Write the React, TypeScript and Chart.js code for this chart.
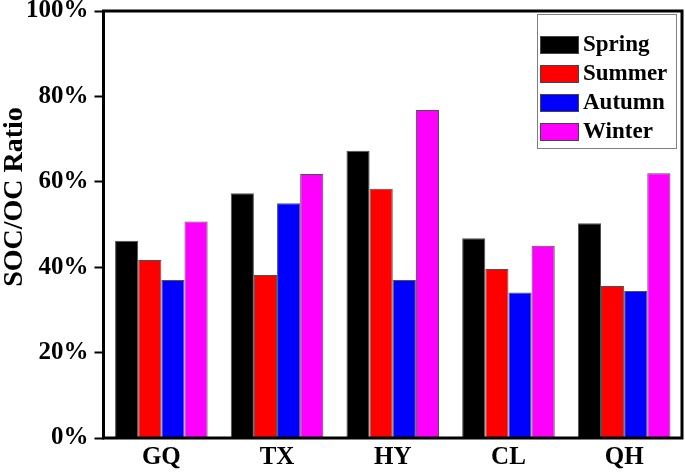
import React, { useEffect, useRef } from "react";
import { Chart, registerables } from "chart.js";

Chart.register(...registerables);

const categories = ["GQ", "TX", "HY", "CL", "QH"];
const seriesNames = ["Spring", "Summer", "Autumn", "Winter"];
const spring = [46.2, 57.3, 67.3, 46.8, 50.3];
const summer = [41.7, 38.2, 58.4, 39.6, 35.6];
const autumn = [37.0, 55.0, 37.0, 34.1, 34.4];
const winter = [50.7, 61.8, 76.8, 45.0, 62.0];
const seriesColors = ["#000000", "#ff0000", "#0000ff", "#ff00ff"];
const yTicks = [0, 20, 40, 60, 80, 100];
const yTitle = "SOC/OC Ratio";

const FONT = "'Liberation Serif', 'Times New Roman', serif";

const framePlugin = {
  id: "frame",
  afterDatasetsDraw(chart: any) {
    const { ctx, chartArea } = chart;
    ctx.save();
    ctx.strokeStyle = "#000";
    ctx.lineWidth = 3;
    ctx.strokeRect(chartArea.left, chartArea.top, chartArea.right - chartArea.left, chartArea.bottom - chartArea.top);
    ctx.restore();
  },
};

const titlePlugin = {
  id: "ytitle",
  afterDraw(chart: any) {
    const { ctx } = chart;
    ctx.save();
    ctx.translate(22, 197);
    ctx.rotate(-Math.PI / 2);
    ctx.font = `bold 28px ${FONT}`;
    ctx.fillStyle = "#000";
    ctx.textAlign = "center";
    ctx.textBaseline = "alphabetic";
    ctx.fillText(yTitle, 0, 0);
    ctx.restore();
  },
};

const legendPlugin = {
  id: "boxlegend",
  afterDraw(chart: any) {
    const { ctx, chartArea } = chart;
    const bx = chartArea.right - 145;
    const by = chartArea.top + 3;
    ctx.save();
    ctx.fillStyle = "#fff";
    ctx.fillRect(bx, by, 139, 134);
    ctx.strokeStyle = "#808080";
    ctx.lineWidth = 1;
    ctx.strokeRect(bx + 0.5, by + 0.5, 139, 134);
    ctx.font = `bold 23px ${FONT}`;
    ctx.textBaseline = "middle";
    ctx.textAlign = "left";
    chart.data.datasets.forEach((ds: any, i: number) => {
      const sy = by + 22 + i * 29;
      ctx.fillStyle = ds.backgroundColor;
      ctx.fillRect(bx + 3, sy, 38, 17);
      ctx.strokeStyle = "#444";
      ctx.strokeRect(bx + 3.5, sy + 0.5, 38, 17);
      ctx.fillStyle = "#000";
      ctx.fillText(ds.label, bx + 46, sy + 9);
    });
    ctx.restore();
  },
};

export default function App() {
  const ref = useRef<HTMLCanvasElement>(null);
  useEffect(() => {
    if (!ref.current) return;
    const values = [spring, summer, autumn, winter];
    const chart = new Chart(ref.current, {
      type: "bar",
      data: {
        labels: categories,
        datasets: seriesNames.map((name, i) => ({
          label: name,
          data: values[i],
          backgroundColor: seriesColors[i],
          borderColor: "#505050",
          borderWidth: 1,
          categoryPercentage: 0.8,
          barPercentage: 1.0,
        })),
      },
      options: {
        responsive: false,
        animation: false,
        devicePixelRatio: 1,
        layout: { padding: { left: 28, top: 11, right: 3, bottom: 0 } },
        plugins: {
          legend: { display: false },
          tooltip: { enabled: false },
          title: { display: false },
        },
        scales: {
          x: {
            grid: { display: false, drawTicks: false },
            border: { display: false },
            ticks: {
              color: "#000",
              font: { family: FONT, size: 25, weight: "bold" },
              padding: 5,
              maxRotation: 0,
            },
            afterFit: (scale: any) => {
              scale.height = 37;
              scale.paddingLeft = 0;
              scale.paddingRight = 0;
            },
          },
          y: {
            min: 0,
            max: 100,
            afterBuildTicks: (scale: any) => {
              scale.ticks = yTicks.map((v) => ({ value: v }));
            },
            grid: {
              drawOnChartArea: false,
              drawTicks: true,
              tickLength: 9,
              tickWidth: 2,
              tickColor: "#000",
              color: "#000",
            },
            border: { display: false },
            ticks: {
              color: "#000",
              font: { family: FONT, size: 25, weight: "bold", lineHeight: 0.9 },
              padding: 6,
              callback: (v: any) => `${v}%`,
            },
            afterFit: (scale: any) => {
              scale.width = 75.5;
              scale.paddingTop = 0;
              scale.paddingBottom = 0;
            },
          },
        },
      },
      plugins: [framePlugin, titlePlugin, legendPlugin],
    });
    return () => chart.destroy();
  }, []);
  return (
    <div style={{ position: "absolute", left: 0, top: 0, width: 685, height: 475, background: "#fff" }}>
      <canvas ref={ref} width={685} height={475} />
    </div>
  );
}
